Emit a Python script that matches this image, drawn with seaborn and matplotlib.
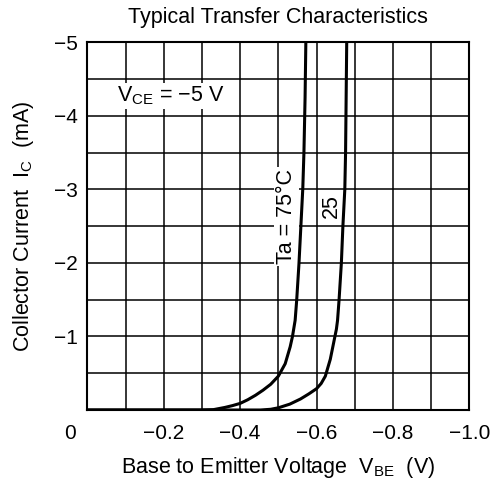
import pandas as pd
import matplotlib.pyplot as plt
import matplotlib.transforms as mtransforms
import seaborn as sns

# base-emitter voltage (V) and collector current (mA)
v_75 = [0, -0.30, -0.33, -0.36, -0.38, -0.40, -0.42, -0.44, -0.46, -0.48, -0.50, -0.518,
        -0.531, -0.537, -0.544, -0.548, -0.554, -0.559, -0.564, -0.567, -0.570, -0.572]
i_75 = [0, 0, -0.005, -0.035, -0.06, -0.09, -0.14, -0.20, -0.27, -0.35, -0.46, -0.63,
        -0.86, -1.0, -1.22, -1.49, -1.99, -2.5, -3.01, -3.5, -4.25, -5.0]

v_25 = [0, -0.40, -0.453, -0.48, -0.50, -0.53, -0.558, -0.58, -0.60, -0.612, -0.623,
        -0.636, -0.645, -0.652, -0.655, -0.659, -0.665, -0.669, -0.674, -0.676, -0.679]
i_25 = [0, 0, 0, -0.01, -0.03, -0.08, -0.15, -0.22, -0.29, -0.36, -0.46,
        -0.69, -0.92, -1.1, -1.22, -1.5, -2.0, -2.5, -3.0, -3.5, -5.0]

x_ticks = [0, -0.2, -0.4, -0.6, -0.8, -1.0]
x_labels = ['0', '\u22120.2', '\u22120.4', '\u22120.6', '\u22120.8', '\u22121.0']
y_ticks = [-1, -2, -3, -4, -5]
y_labels = ['\u22121', '\u22122', '\u22123', '\u22124', '\u22125']

df = pd.concat([
    pd.DataFrame({'vbe': v_75, 'ic': i_75, 'ta': '75'}),
    pd.DataFrame({'vbe': v_25, 'ic': i_25, 'ta': '25'}),
])

sns.set_style('white')
plt.rcParams['font.family'] = ['Liberation Sans', 'DejaVu Sans']
plt.rcParams['mathtext.default'] = 'regular'
for k in ['text.color', 'axes.labelcolor', 'xtick.color', 'ytick.color']:
    plt.rcParams[k] = 'black'

fig = plt.figure(figsize=(5.03, 4.83), dpi=100)
ax = fig.add_axes([0.1736, 0.1511, 0.7595, 0.7613])

sns.lineplot(data=df, x='vbe', y='ic', hue='ta', palette={'75': 'black', '25': 'black'},
             estimator=None, legend=False, linewidth=2.2, ax=ax)

ax.set_xlim(0, -1.0)
ax.set_ylim(0, -5)

# labelled ticks every 0.2 V / 1 mA, grid every 0.1 V / 0.5 mA
ax.set_xticks(x_ticks)
ax.set_xticklabels(x_labels, fontsize=15)
ax.set_xticks([-0.1, -0.3, -0.5, -0.7, -0.9], minor=True)
ax.set_yticks(y_ticks)
ax.set_yticklabels(y_labels, fontsize=15)
ax.set_yticks([-0.5, -1.5, -2.5, -3.5, -4.5], minor=True)
ax.tick_params(axis='both', which='both', length=0)
ax.tick_params(axis='x', pad=10)
ax.tick_params(axis='y', pad=7)

ax.set_axisbelow(True)
ax.grid(True, which='both', color='black', linewidth=1.1)
for s in ax.spines.values():
    s.set_color('black')
    s.set_linewidth(1.5)

# the "0" label sits left of the origin in the original
lbl0 = ax.xaxis.get_major_ticks()[0].label1
lbl0.set_transform(lbl0.get_transform() + mtransforms.ScaledTranslation(-17 / 100, 0, fig.dpi_scale_trans))

box = dict(facecolor='white', edgecolor='none', pad=1.5)
ax.text(-0.522, -2.63, 'Ta = 75\u00b0C', rotation=90, ha='center', va='center',
        fontsize=15.5, bbox=box, zorder=1.5)
ax.text(-0.640, -2.77, '25', rotation=90, ha='center', va='center',
        fontsize=15.5, bbox=box, zorder=1.5)
ax.text(-0.077, -4.27, 'V$_{CE}$ = \u22125 V', ha='left', va='center',
        fontsize=15.5, bbox=box, zorder=1.5)

ax.set_title('Typical Transfer Characteristics', fontsize=15.5, pad=14)
ax.set_xlabel('Base to Emitter Voltage  V$_{BE}$  (V)', fontsize=15.5, labelpad=9)
ax.set_ylabel('Collector Current  I$_{C}$  (mA)', fontsize=15.5, labelpad=13)

fig.savefig('out.png', dpi=100)
